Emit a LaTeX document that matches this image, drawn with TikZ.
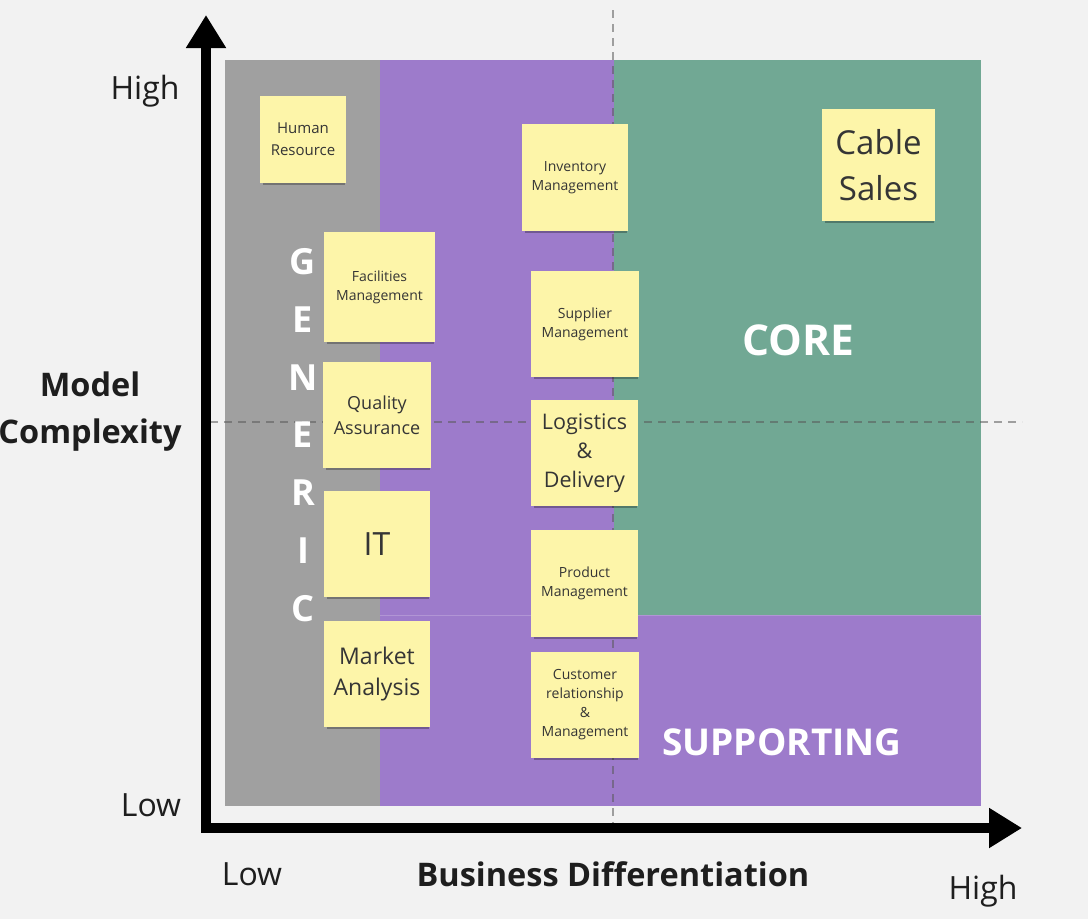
\documentclass[tikz,border=0pt]{standalone}
\usepackage{fontspec}
\setmainfont{Open Sans}
\usepackage{xcolor}
\usetikzlibrary{arrows.meta,shadows}

\definecolor{bgcol}{HTML}{F2F2F2}
\definecolor{genericcol}{HTML}{A0A0A0}
\definecolor{supportcol}{HTML}{9D7BCB}
\definecolor{corecol}{HTML}{71A894}
\definecolor{stickycol}{HTML}{FDF5A9}
\definecolor{inkcol}{HTML}{1E1E1E}

\newcommand{\fs}[2]{\fontsize{#1}{#2}\selectfont}

\begin{document}
\begin{tikzpicture}[x=1pt,y=-1pt,
  sticky/.style={fill=stickycol,text=inkcol!90,align=center,inner sep=0pt,
    minimum width=107pt,minimum height=107pt,
    drop shadow={shadow xshift=1pt,shadow yshift=-4pt,shadow scale=0.96,opacity=0.28,fill=black}},
  zonelabel/.style={text=white,font=\bfseries\fs{38}{44}},
  axislabel/.style={text=inkcol,align=center},
  guide/.style={draw=black!65,opacity=0.55,line width=2pt,dash pattern=on 8pt off 6pt}]

\useasboundingbox[fill=bgcol] (0,0) rectangle (1088,919);

% regions
\fill[supportcol] (225,60) rectangle (981,806);
\fill[genericcol] (225,60) rectangle (380,806);
\fill[corecol] (614,60) rectangle (981,615);
\draw[supportcol!80!white,line width=1pt] (380,615) -- (981,615);

% guides
\draw[guide] (613,10) -- (613,830);
\draw[guide] (210,422) -- (1022,422);

% stickies
\node[sticky,minimum width=86pt,minimum height=87pt,font=\fs{15}{22}] (hr) at (303,139.5) {Human\\Resource};
\node[sticky,minimum width=106pt,font=\fs{14}{19}] (inventory) at (575,177.5) {Inventory\\Management};
\node[sticky,minimum width=113pt,minimum height=112pt,font=\fs{33}{46}] (cable) at (878.5,165) {Cable\\Sales};
\node[sticky,minimum width=111pt,minimum height=110pt,font=\fs{14}{19}] (facilities) at (379.5,287) {Facilities\\Management};
\node[sticky,minimum width=108pt,minimum height=106pt,font=\fs{14}{19}] (supplier) at (585,324) {Supplier\\Management};
\node[sticky,minimum width=108pt,minimum height=106pt,font=\fs{18}{25}] (quality) at (377,415) {Quality\\Assurance};
\node[sticky,minimum height=106pt,font=\fs{21.5}{29}] (logistics) at (584.5,453) {Logistics\\\&\\Delivery};
\node[sticky,minimum width=106pt,minimum height=106pt,font=\fs{32}{40}] (it) at (377,544) {IT};
\node[sticky,font=\fs{14}{19}] (product) at (584.5,583.5) {Product\\Management};
\node[sticky,minimum width=106pt,minimum height=106pt,font=\fs{23}{31}] (market) at (377,674) {Market\\Analysis};
\node[sticky,minimum width=108pt,minimum height=106pt,font=\fs{14}{19}] (customer) at (585,705) {Customer\\relationship\\\&\\Management};

% zone labels
\foreach \l [count=\i from 0] in {G,E,N,E,R,I,C}
  \node[zonelabel,font=\bfseries\fs{36}{40}] (generic\i) at (303,262+57.7*\i) {\l};
\node[zonelabel,font=\bfseries\fs{42.5}{48}] (core) at (798,340) {CORE};
\node[zonelabel,font=\bfseries\fs{37}{42}] (supporting) at (782,742) {SUPPORTING};

% axes
\coordinate (origin) at (206,828);
\coordinate (ytip) at (206,15);
\coordinate (xtip) at (1022,828);
\draw[line width=10pt,line join=miter,{Triangle[length=33pt,width=38pt]}-{Triangle[length=33pt,width=38pt]}]
  (ytip) -- (origin) -- (xtip);

% axis labels
\node[axislabel,font=\fs{32}{38}] (yhigh) at (145,91) {High};
\node[axislabel,font=\fs{32}{38}] (ylow) at (151,805) {Low};
\node[axislabel,font=\bfseries\fs{32.5}{47}] (ytitle) at (90,412) {Model\\Complexity};
\node[axislabel,font=\fs{32}{38}] (xlow) at (252,874) {Low};
\node[axislabel,font=\bfseries\fs{32.5}{38}] (xtitle) at (613,874) {Business Differentiation};
\node[axislabel,font=\fs{32}{38}] (xhigh) at (983,891) {High};

\end{tikzpicture}
\end{document}
